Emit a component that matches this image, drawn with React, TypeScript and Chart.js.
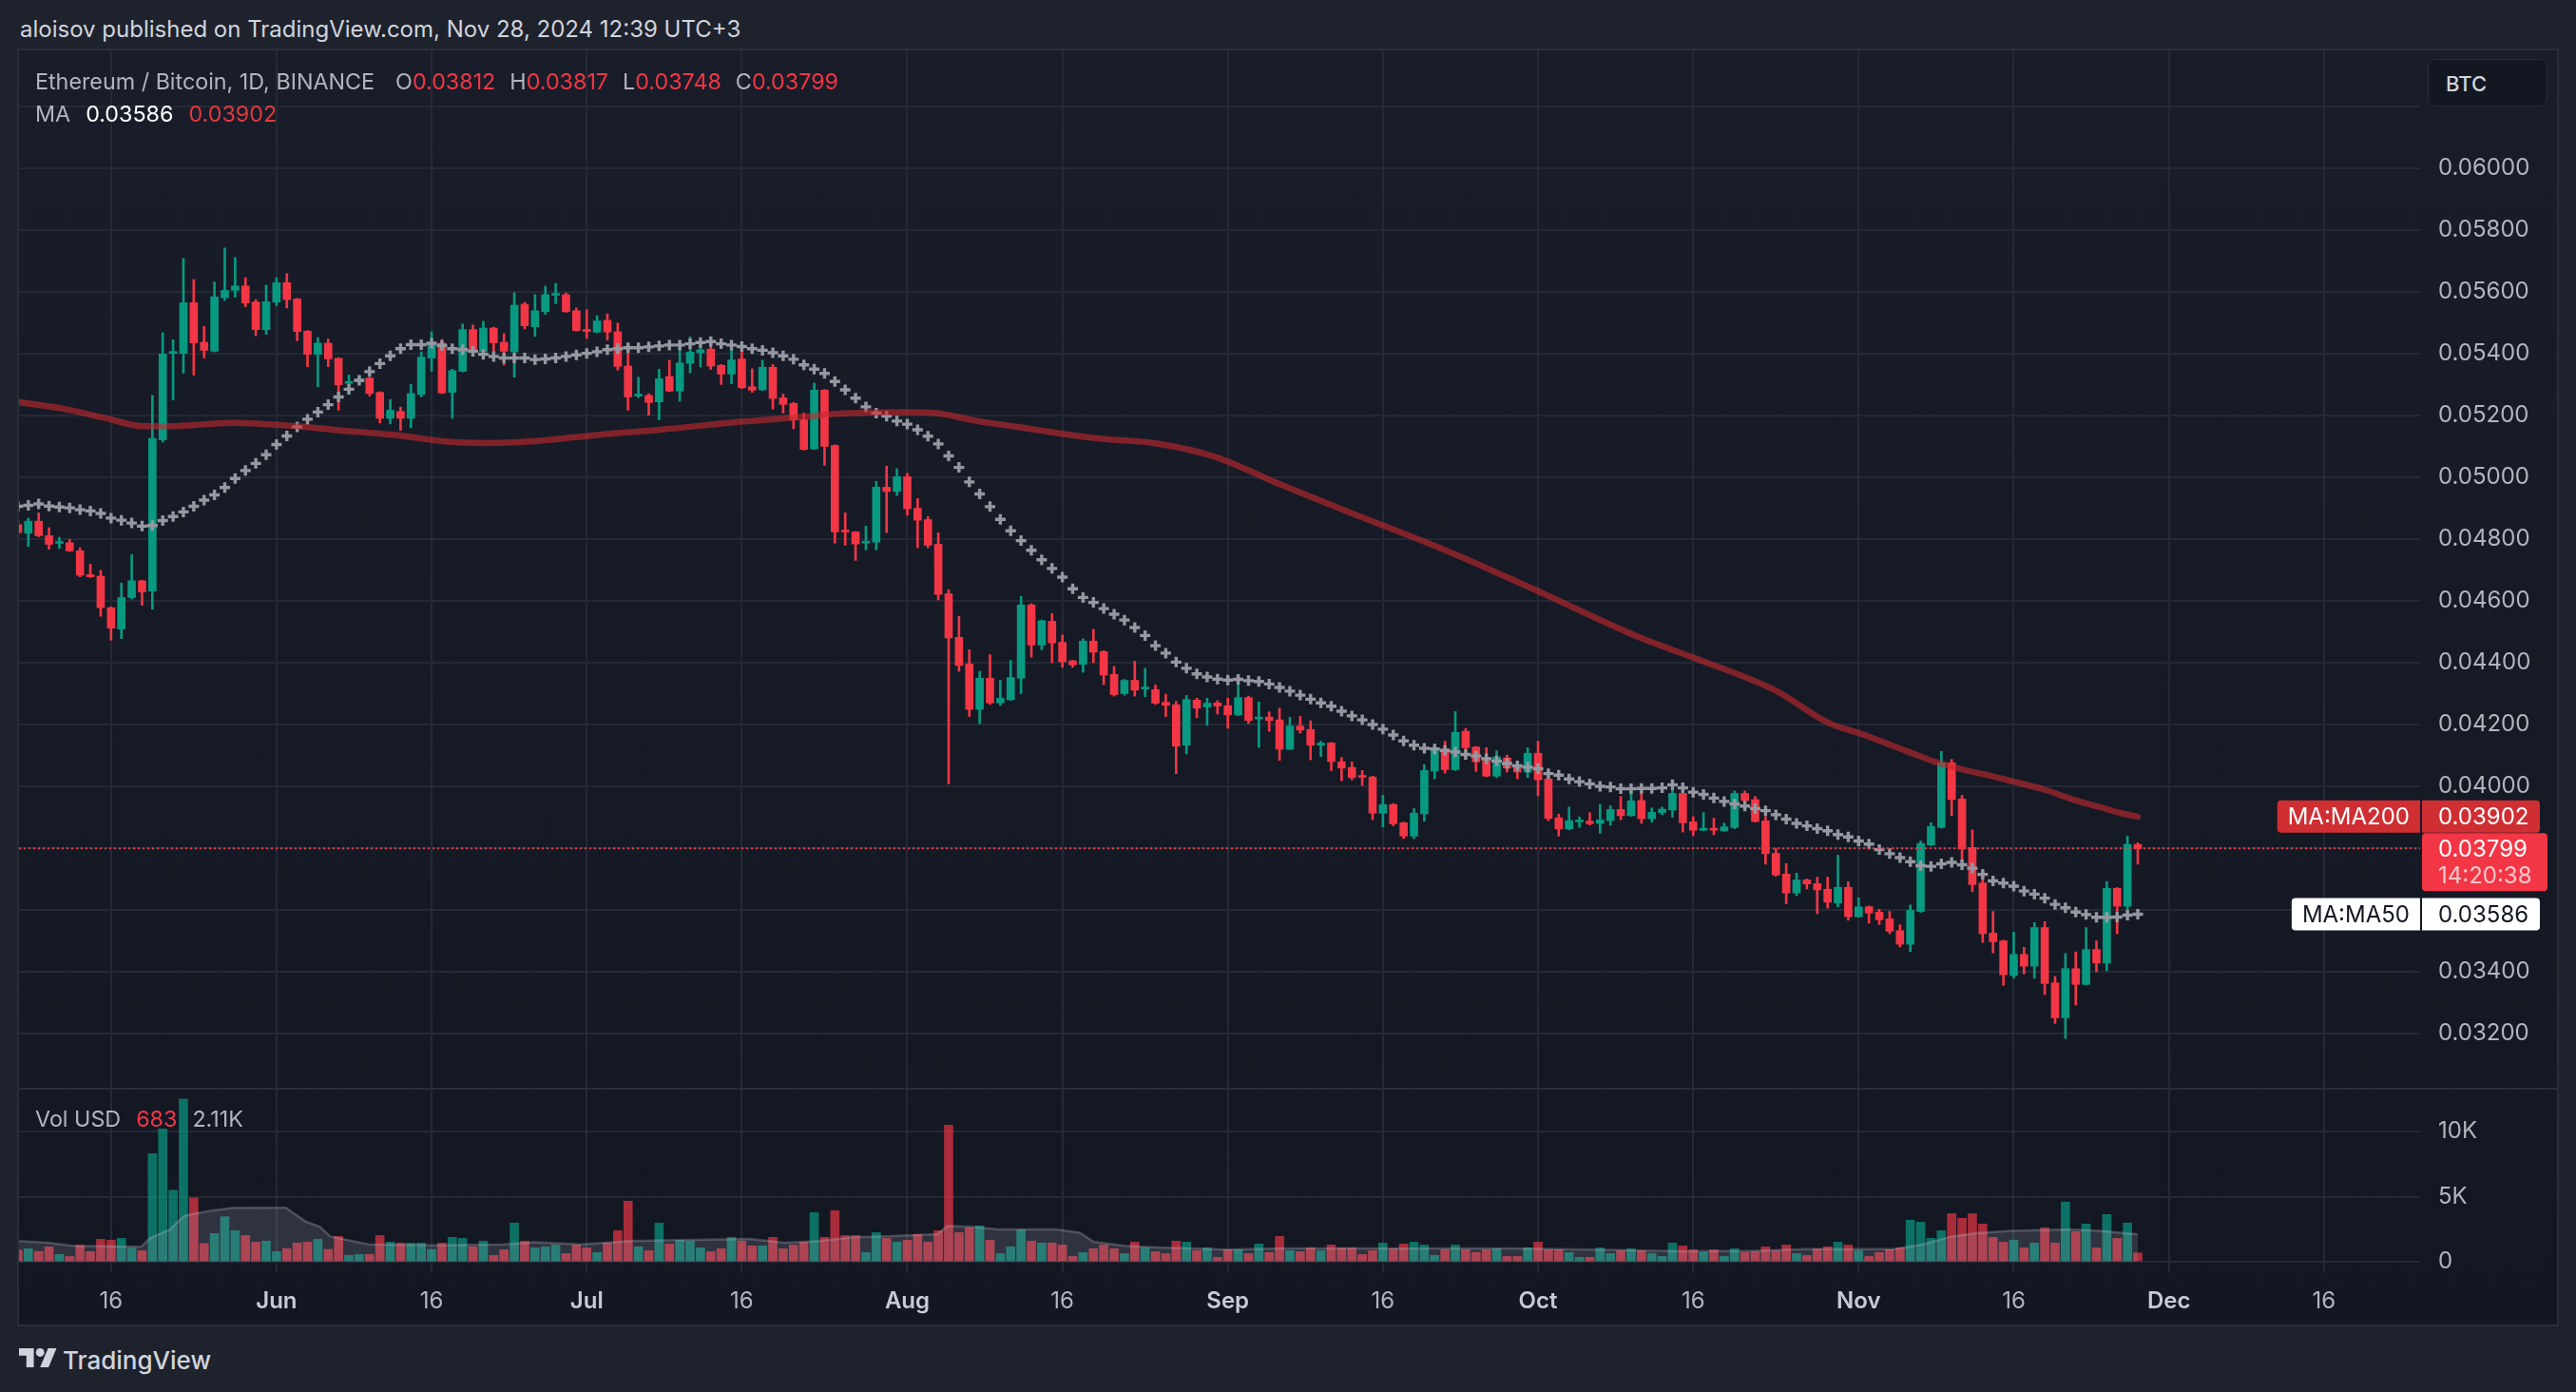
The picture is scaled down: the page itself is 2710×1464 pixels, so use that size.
import React, { useEffect, useRef } from 'react';
import { Chart, registerables } from 'chart.js';

Chart.register(...registerables);

const FONT = 'Inter, "Noto Sans", "DejaVu Sans", sans-serif';
Chart.defaults.font.family = FONT;

// ---------------- data (day index 0 = 2024-05-07, one candle per day) ----------------
const opens = [
  0.04847,0.04819,0.04858,0.04811,0.04786,0.04788,0.04762,0.04685,0.04680,0.04578,
  0.04509,0.04611,0.04665,0.04632,0.05121,0.05401,0.05401,0.05565,0.05437,0.05408,
  0.05581,0.05605,0.05619,0.05567,0.05478,0.05567,0.05630,0.05577,0.05473,0.05398,
  0.05434,0.05385,0.05304,0.05309,0.05321,0.05275,0.05191,0.05213,0.05191,0.05268,
  0.05386,0.05434,0.05275,0.05343,0.05478,0.05406,0.05483,0.05437,0.05406,0.05560,
  0.05487,0.05536,0.05589,0.05591,0.05539,0.05477,0.05470,0.05508,0.05471,0.05360,
  0.05263,0.05265,0.05244,0.05326,0.05279,0.05369,0.05403,0.05415,0.05362,0.05334,
  0.05383,0.05293,0.05283,0.05356,0.05257,0.05239,0.05186,0.05092,0.05282,0.05103,
  0.04828,0.04823,0.04787,0.04790,0.04968,0.04954,0.05002,0.04900,0.04863,0.04783,
  0.04623,0.04482,0.04396,0.04249,0.04350,0.04270,0.04280,0.04350,0.04587,0.04457,
  0.04534,0.04466,0.04406,0.04395,0.04470,0.04436,0.04362,0.04300,0.04343,0.04315,
  0.04313,0.04272,0.04264,0.04133,0.04279,0.04257,0.04270,0.04261,0.04231,0.04287,
  0.04218,0.04224,0.04215,0.04120,0.04195,0.04184,0.04133,0.04140,0.04079,0.04061,
  0.04034,0.04030,0.03913,0.03941,0.03882,0.03839,0.03911,0.04049,0.04121,0.04054,
  0.04178,0.04127,0.04082,0.04033,0.04092,0.04062,0.04046,0.04107,0.04024,0.03898,
  0.03862,0.03885,0.03887,0.03880,0.03889,0.03925,0.03905,0.03954,0.03895,0.03915,
  0.03923,0.03977,0.03885,0.03858,0.03863,0.03856,0.03867,0.03977,0.03957,0.03888,
  0.03783,0.03716,0.03655,0.03697,0.03685,0.03667,0.03622,0.03673,0.03578,0.03610,
  0.03593,0.03571,0.03533,0.03489,0.03595,0.03810,0.03867,0.04076,0.03959,0.03802,
  0.03687,0.03525,0.03500,0.03388,0.03456,0.03418,0.03543,0.03364,0.03251,0.03410,
  0.03359,0.03472,0.03428,0.03670,0.03612,0.03812,
];
const highs = [
  0.04860,0.04868,0.04885,0.04837,0.04806,0.04799,0.04772,0.04719,0.04699,0.04581,
  0.04658,0.04750,0.04667,0.05265,0.05468,0.05445,0.05708,0.05640,0.05488,0.05632,
  0.05742,0.05711,0.05646,0.05575,0.05622,0.05646,0.05659,0.05579,0.05475,0.05452,
  0.05447,0.05387,0.05331,0.05329,0.05323,0.05277,0.05252,0.05227,0.05301,0.05406,
  0.05471,0.05446,0.05350,0.05496,0.05493,0.05505,0.05486,0.05465,0.05597,0.05566,
  0.05591,0.05619,0.05627,0.05597,0.05548,0.05542,0.05523,0.05529,0.05499,0.05417,
  0.05324,0.05271,0.05350,0.05379,0.05439,0.05454,0.05434,0.05428,0.05365,0.05415,
  0.05408,0.05351,0.05379,0.05365,0.05269,0.05242,0.05208,0.05305,0.05284,0.05105,
  0.04885,0.04825,0.04842,0.04987,0.05036,0.05028,0.05013,0.04931,0.04873,0.04820,
  0.04636,0.04550,0.04442,0.04372,0.04426,0.04343,0.04408,0.04615,0.04591,0.04538,
  0.04559,0.04490,0.04408,0.04477,0.04508,0.04439,0.04388,0.04346,0.04405,0.04382,
  0.04328,0.04298,0.04275,0.04294,0.04285,0.04285,0.04277,0.04285,0.04339,0.04292,
  0.04273,0.04241,0.04253,0.04223,0.04226,0.04212,0.04146,0.04142,0.04093,0.04079,
  0.04051,0.04033,0.03971,0.03944,0.03884,0.03928,0.04070,0.04128,0.04146,0.04242,
  0.04187,0.04129,0.04125,0.04115,0.04101,0.04072,0.04125,0.04146,0.04046,0.03910,
  0.03933,0.03901,0.03915,0.03941,0.03937,0.03967,0.03985,0.03985,0.03930,0.03933,
  0.04005,0.04003,0.03902,0.03915,0.03897,0.03881,0.03985,0.03985,0.03967,0.03902,
  0.03798,0.03750,0.03719,0.03700,0.03706,0.03706,0.03777,0.03691,0.03639,0.03613,
  0.03602,0.03595,0.03552,0.03616,0.03823,0.03882,0.04113,0.04087,0.03971,0.03859,
  0.03723,0.03595,0.03502,0.03528,0.03479,0.03559,0.03562,0.03385,0.03459,0.03464,
  0.03543,0.03500,0.03692,0.03672,0.03839,0.03817,
];
const lows = [
  0.04815,0.04776,0.04808,0.04767,0.04770,0.04760,0.04678,0.04676,0.04550,0.04473,
  0.04478,0.04606,0.04586,0.04573,0.05114,0.05250,0.05337,0.05331,0.05386,0.05406,
  0.05572,0.05583,0.05552,0.05458,0.05463,0.05555,0.05548,0.05442,0.05358,0.05293,
  0.05358,0.05217,0.05268,0.05301,0.05263,0.05176,0.05173,0.05152,0.05160,0.05260,
  0.05343,0.05271,0.05191,0.05341,0.05394,0.05386,0.05406,0.05363,0.05324,0.05480,
  0.05456,0.05527,0.05562,0.05534,0.05473,0.05450,0.05468,0.05444,0.05347,0.05217,
  0.05258,0.05201,0.05186,0.05277,0.05246,0.05338,0.05357,0.05349,0.05300,0.05303,
  0.05287,0.05275,0.05281,0.05221,0.05208,0.05157,0.05088,0.05090,0.05039,0.04787,
  0.04780,0.04731,0.04765,0.04765,0.04821,0.04941,0.04877,0.04772,0.04772,0.04603,
  0.04008,0.04372,0.04226,0.04203,0.04265,0.04262,0.04278,0.04300,0.04418,0.04442,
  0.04400,0.04385,0.04385,0.04369,0.04400,0.04329,0.04292,0.04295,0.04292,0.04290,
  0.04265,0.04226,0.04041,0.04105,0.04222,0.04197,0.04234,0.04188,0.04229,0.04203,
  0.04126,0.04178,0.04084,0.04118,0.04172,0.04086,0.04096,0.04051,0.04018,0.04021,
  0.04003,0.03892,0.03869,0.03872,0.03831,0.03831,0.03887,0.04024,0.04043,0.04051,
  0.04098,0.04048,0.04031,0.04028,0.04046,0.04024,0.04028,0.03969,0.03889,0.03839,
  0.03859,0.03867,0.03875,0.03848,0.03874,0.03892,0.03903,0.03880,0.03884,0.03908,
  0.03900,0.03852,0.03840,0.03856,0.03843,0.03854,0.03863,0.03943,0.03884,0.03748,
  0.03709,0.03620,0.03646,0.03668,0.03588,0.03606,0.03610,0.03567,0.03576,0.03557,
  0.03553,0.03523,0.03480,0.03465,0.03592,0.03808,0.03865,0.03905,0.03754,0.03659,
  0.03495,0.03461,0.03356,0.03379,0.03393,0.03379,0.03326,0.03233,0.03184,0.03292,
  0.03357,0.03400,0.03403,0.03523,0.03585,0.03748,
];
const closes = [
  0.04821,0.04858,0.04811,0.04783,0.04791,0.04762,0.04683,0.04678,0.04578,0.04512,
  0.04611,0.04665,0.04629,0.05126,0.05399,0.05406,0.05565,0.05435,0.05411,0.05584,
  0.05605,0.05619,0.05564,0.05478,0.05568,0.05630,0.05575,0.05472,0.05398,0.05434,
  0.05383,0.05299,0.05309,0.05319,0.05271,0.05191,0.05217,0.05191,0.05271,0.05389,
  0.05434,0.05273,0.05345,0.05478,0.05406,0.05483,0.05435,0.05408,0.05557,0.05490,
  0.05539,0.05591,0.05593,0.05536,0.05475,0.05472,0.05506,0.05470,0.05359,0.05260,
  0.05268,0.05242,0.05319,0.05279,0.05370,0.05405,0.05413,0.05360,0.05334,0.05380,
  0.05290,0.05282,0.05356,0.05255,0.05236,0.05186,0.05090,0.05282,0.05100,0.04823,
  0.04823,0.04784,0.04793,0.04968,0.04954,0.05002,0.04898,0.04861,0.04780,0.04621,
  0.04480,0.04391,0.04249,0.04350,0.04270,0.04285,0.04352,0.04587,0.04457,0.04536,
  0.04464,0.04403,0.04393,0.04470,0.04434,0.04360,0.04297,0.04343,0.04311,0.04319,
  0.04269,0.04262,0.04130,0.04281,0.04253,0.04269,0.04260,0.04231,0.04287,0.04213,
  0.04223,0.04213,0.04120,0.04195,0.04182,0.04133,0.04140,0.04080,0.04059,0.04028,
  0.04029,0.03913,0.03941,0.03879,0.03839,0.03913,0.04051,0.04123,0.04054,0.04175,
  0.04125,0.04079,0.04033,0.04095,0.04059,0.04046,0.04107,0.04021,0.03896,0.03862,
  0.03889,0.03889,0.03879,0.03891,0.03925,0.03905,0.03953,0.03895,0.03916,0.03926,
  0.03977,0.03882,0.03858,0.03862,0.03858,0.03869,0.03977,0.03954,0.03886,0.03782,
  0.03713,0.03655,0.03697,0.03684,0.03665,0.03625,0.03673,0.03578,0.03610,0.03590,
  0.03568,0.03531,0.03489,0.03599,0.03815,0.03870,0.04076,0.03957,0.03797,0.03682,
  0.03523,0.03497,0.03390,0.03456,0.03418,0.03543,0.03362,0.03251,0.03410,0.03359,
  0.03472,0.03428,0.03670,0.03612,0.03812,0.03799,
];
// volume in thousands (USD)
const volumesK = [
  0.90,1.00,0.80,1.15,0.56,0.41,1.27,0.78,1.73,1.66,
  1.80,1.05,0.85,8.30,10.20,5.50,12.50,4.90,1.41,2.17,
  3.46,2.39,2.02,1.51,1.59,0.78,1.02,1.44,1.51,1.73,
  0.95,1.95,0.49,0.56,0.56,2.02,1.51,1.44,1.44,1.44,
  0.95,1.44,1.88,1.80,1.15,1.59,0.49,0.93,2.98,1.59,
  1.07,1.15,1.29,0.63,1.29,1.07,0.71,1.44,2.39,4.66,
  1.15,0.85,2.98,1.37,1.66,1.59,1.07,0.78,1.00,1.88,
  1.59,1.22,1.22,1.88,1.00,1.29,1.51,3.78,1.88,3.93,
  2.02,2.02,0.71,2.24,1.80,1.51,1.66,2.10,1.51,2.39,
  10.50,2.24,2.61,2.76,1.66,0.63,1.15,2.46,1.59,1.44,
  1.44,1.29,0.41,0.71,1.00,1.29,1.00,0.63,1.51,1.07,
  0.78,0.63,1.59,1.51,0.85,1.07,0.34,0.93,0.93,0.63,
  1.37,0.71,1.95,0.85,0.78,1.07,0.85,1.29,1.07,1.07,
  0.56,0.85,1.44,1.00,1.37,1.51,1.29,0.49,0.93,1.29,
  0.93,0.71,0.93,1.00,0.41,0.41,1.07,1.51,0.93,0.93,
  0.71,0.34,0.34,1.07,0.63,0.85,1.00,0.85,0.63,0.41,
  1.44,1.22,0.93,0.71,0.93,0.41,1.00,0.71,0.78,1.15,
  0.85,1.29,0.63,0.49,0.98,1.15,1.51,1.29,0.85,0.41,
  0.71,0.93,1.07,3.20,3.05,1.80,2.39,3.70,3.34,3.70,
  2.90,1.88,1.51,1.66,1.07,1.44,2.61,1.44,4.59,2.32,
  2.90,1.07,3.63,1.80,2.98,0.683,
];
const ma50 = [
  0.04906,0.04909,0.04914,0.04907,0.04904,0.04901,0.04895,0.04891,0.04883,0.04868,
  0.04861,0.04852,0.04842,0.04844,0.04860,0.04873,0.04888,0.04906,0.04926,0.04943,
  0.04967,0.04996,0.05022,0.05045,0.05073,0.05106,0.05134,0.05163,0.05188,0.05211,
  0.05235,0.05260,0.05285,0.05314,0.05342,0.05368,0.05393,0.05416,0.05429,0.05429,
  0.05434,0.05427,0.05416,0.05413,0.05408,0.05398,0.05391,0.05386,0.05386,0.05386,
  0.05381,0.05383,0.05386,0.05391,0.05396,0.05401,0.05406,0.05413,0.05416,0.05419,
  0.05419,0.05422,0.05425,0.05428,0.05428,0.05432,0.05436,0.05439,0.05432,0.05428,
  0.05423,0.05416,0.05411,0.05403,0.05393,0.05382,0.05364,0.05350,0.05336,0.05310,
  0.05283,0.05256,0.05228,0.05208,0.05198,0.05182,0.05172,0.05154,0.05133,0.05108,
  0.05069,0.05032,0.04985,0.04946,0.04905,0.04864,0.04827,0.04795,0.04764,0.04733,
  0.04705,0.04677,0.04639,0.04611,0.04595,0.04575,0.04557,0.04538,0.04514,0.04488,
  0.04455,0.04431,0.04402,0.04382,0.04364,0.04354,0.04347,0.04344,0.04346,0.04342,
  0.04339,0.04331,0.04320,0.04308,0.04295,0.04282,0.04270,0.04259,0.04243,0.04228,
  0.04215,0.04200,0.04185,0.04166,0.04147,0.04133,0.04123,0.04121,0.04116,0.04111,
  0.04103,0.04098,0.04089,0.04082,0.04074,0.04066,0.04062,0.04057,0.04041,0.04036,
  0.04024,0.04015,0.04008,0.04000,0.03998,0.03992,0.03992,0.03993,0.03993,0.03995,
  0.04005,0.03995,0.03981,0.03974,0.03962,0.03951,0.03943,0.03936,0.03928,0.03921,
  0.03908,0.03894,0.03880,0.03872,0.03863,0.03856,0.03844,0.03836,0.03823,0.03813,
  0.03795,0.03782,0.03769,0.03756,0.03743,0.03741,0.03749,0.03754,0.03746,0.03735,
  0.03715,0.03694,0.03687,0.03677,0.03661,0.03651,0.03638,0.03618,0.03607,0.03593,
  0.03585,0.03576,0.03576,0.03577,0.03583,0.03586,
];
// MA200 at these day indices
const ma200Days = [0,4.4,8.5,12.2,14.7,20.8,27,31,37.2,41.3,45.4,49.5,53.7,57.7,62.1,70,75.9,79,86,89,92.8,95.9,101,105.1,110,115.8,122.2,130.1,138.1,146.7,156.8,161.9,169.9,175.1,178.3,183.1,185.6,187.9,191.1,193,195.9,199,201.6,203.8,205];
const ma200Vals = [0.05244,0.05222,0.05191,0.05165,0.05165,0.05176,0.05165,0.05152,0.05134,0.05116,0.05111,0.05116,0.05129,0.05142,0.05154,0.05180,0.05195,0.05205,0.05211,0.05207,0.05182,0.05167,0.05141,0.05124,0.05110,0.05066,0.04975,0.04869,0.04763,0.04636,0.04482,0.04418,0.04311,0.04205,0.04169,0.04108,0.04077,0.04056,0.04031,0.04015,0.03990,0.03954,0.03930,0.03910,0.03902];
// volume moving average (thousands)
const volMaDays = [0,2.9,5.3,11.9,12.8,14.7,16.1,18.4,20.8,25.9,27.8,29.2,30.2,33.9,40.5,47,49.9,54.5,59.2,63.9,70.8,74.1,77.4,80.7,84,88.9,89.9,92.2,94.8,100.4,102.7,104,107,110.2,113.5,116.8,122.3,144.9,154.7,161.3,167.9,172.8,181.4,184.2,187.05,189.4,192.7,198.4,201.3,205];
const volMaVals = [1.59,1.46,1.22,1.15,1.83,2.49,3.54,3.90,4.15,4.15,3.10,2.68,1.95,1.34,1.27,1.34,1.51,1.34,1.59,1.66,1.76,1.46,1.59,1.88,1.95,2.12,2.76,2.68,2.49,2.49,2.24,1.54,1.22,1.10,1.02,0.93,1.02,1.02,0.90,0.80,0.85,0.98,0.98,1.34,1.95,2.20,2.37,2.49,2.37,2.11];

const ma200Last = 0.03902;
const countdown = '14:20:38';

const priceTicks = [0.032,0.034,0.036,0.038,0.040,0.042,0.044,0.046,0.048,0.050,0.052,0.054,0.056,0.058,0.060,0.062];
const hiddenPriceTick = 0.062;
const volTicks = [0, 5, 10];
const volTickLabels = ['0', '5K', '10K'];
const timeTickDays = [9,25,40,55,70,86,101,117,132,147,162,178,193,208,223];
const timeTickLabels = ['16','Jun','16','Jul','16','Aug','16','Sep','16','Oct','16','Nov','16','Dec','16'];

// ---------------- layout / style ----------------
const PANEL_L = 20, PANEL_T = 53, PANEL_R = 2690, PRICE_B = 1145, VOL_B = 1338, PANEL_B = 1393;
const AXIS_W = 144;
const X_MIN = 0.1, X_MAX = 232.3;
const P_MIN = 0.030215, P_MAX = 0.063815;
const V_MIN = -0.8, V_MAX = 13.3;
const GREEN = '#089981';
const RED = '#f23645';
const GRID = '#252935';
const TEXT = '#b2b5be';

const upFlags = closes.map((c, i) => c >= opens[i]);
const candleColors = upFlags.map(u => (u ? GREEN : RED));
const volColors = upFlags.map(u => (u ? 'rgba(8,153,129,0.7)' : 'rgba(242,54,69,0.68)'));

const zeroPad = (s: any) => { s.paddingTop = 0; s.paddingBottom = 0; s.paddingLeft = 0; s.paddingRight = 0; };

const badgePlugin = {
  id: 'axisBadges',
  afterDraw(chart: any) {
    const { ctx, chartArea, scales } = chart;
    const ys = scales.y;
    const right = chartArea.right;
    const textX = right + 19;
    ctx.save();
    ctx.font = `24px ${FONT}`;
    ctx.textBaseline = 'middle';
    ctx.textAlign = 'left';
    const pair = (value: number, label: string, bg: string, fg: string) => {
      const py = ys.getPixelForValue(value);
      const h = 34;
      const lw = ctx.measureText(label).width + 22;
      ctx.fillStyle = bg;
      ctx.beginPath();
      ctx.roundRect(right - lw, py - h / 2, lw, h, [4, 0, 0, 4]);
      ctx.fill();
      ctx.beginPath();
      ctx.roundRect(right + 2, py - h / 2, 124, h, [0, 4, 4, 0]);
      ctx.fill();
      ctx.fillStyle = fg;
      ctx.fillText(label, right - lw + 11, py + 1);
      ctx.fillText(value.toFixed(5), textX, py + 1);
    };
    pair(ma200Last, 'MA:MA200', '#cf2e33', '#ffffff');
    const last = closes[closes.length - 1];
    const lp = ys.getPixelForValue(last);
    ctx.fillStyle = RED;
    ctx.beginPath();
    ctx.roundRect(right + 2, lp - 16, 132, 61, 4);
    ctx.fill();
    ctx.fillStyle = '#ffffff';
    ctx.fillText(last.toFixed(5), textX, lp + 1);
    ctx.fillStyle = 'rgba(255,255,255,0.72)';
    ctx.fillText(countdown, textX, lp + 29);
    pair(ma50[ma50.length - 1], 'MA:MA50', '#ffffff', '#131722');
    ctx.restore();
  },
};

function makePriceChart(canvas: HTMLCanvasElement) {
  const last = closes[closes.length - 1];
  return new Chart(canvas, {
    type: 'bar',
    data: {
      datasets: [
        {
          type: 'line', label: 'last', order: 0,
          data: [{ x: X_MIN, y: last }, { x: X_MAX, y: last }],
          borderColor: RED, borderWidth: 2, borderDash: [2, 3], pointRadius: 0,
        },
        {
          type: 'line', label: 'MA200', order: 1,
          data: ma200Days.map((d, i) => ({ x: d, y: ma200Vals[i] })),
          borderColor: 'rgba(200,40,45,0.6)', borderWidth: 6.5, pointRadius: 0,
          tension: 0.4, cubicInterpolationMode: 'monotone', borderCapStyle: 'round',
        },
        {
          type: 'line', label: 'MA50', order: 2,
          data: ma50.map((v, i) => ({ x: i, y: v })),
          showLine: false, pointStyle: 'cross', pointRadius: 5.5, pointBorderWidth: 3.4,
          pointBorderColor: '#9598a1', pointBackgroundColor: '#9598a1',
        },
        {
          type: 'bar', label: 'body', order: 3,
          data: opens.map((o, i) => ({ x: i, y: [o, closes[i]] })),
          backgroundColor: candleColors, barThickness: 8, minBarLength: 2, grouped: false,
        },
        {
          type: 'bar', label: 'wick', order: 4,
          data: lows.map((l, i) => ({ x: i, y: [l, highs[i]] })),
          backgroundColor: candleColors, barThickness: 2, grouped: false,
        },
      ],
    } as any,
    options: {
      animation: false, responsive: false, maintainAspectRatio: false, devicePixelRatio: 1,
      layout: { padding: 0, autoPadding: false },
      plugins: { legend: { display: false }, tooltip: { enabled: false } },
      scales: {
        x: {
          type: 'linear', min: X_MIN, max: X_MAX, offset: false,
          grid: { color: GRID, lineWidth: 2, drawTicks: false, offset: false },
          border: { display: false },
          ticks: { display: false },
          afterBuildTicks: (s: any) => { s.ticks = timeTickDays.map(v => ({ value: v })); },
          afterFit: (s: any) => { s.height = 0; zeroPad(s); },
        },
        y: {
          type: 'linear', position: 'right', min: P_MIN, max: P_MAX, beginAtZero: false,
          grid: { color: GRID, lineWidth: 2, drawTicks: false },
          border: { display: false },
          ticks: {
            color: TEXT, padding: 19, font: { family: FONT, size: 24 },
            callback: (v: any) => (Math.abs(v - hiddenPriceTick) < 1e-9 ? '' : Number(v).toFixed(5)),
          },
          afterBuildTicks: (s: any) => { s.ticks = priceTicks.map(v => ({ value: v })); },
          afterFit: (s: any) => { s.width = AXIS_W; zeroPad(s); },
        },
      },
    } as any,
    plugins: [badgePlugin],
  });
}

function makeVolumeChart(canvas: HTMLCanvasElement) {
  return new Chart(canvas, {
    type: 'bar',
    data: {
      datasets: [
        {
          type: 'line', label: 'Vol MA', order: 0,
          data: volMaDays.map((d, i) => ({ x: d, y: volMaVals[i] })),
          borderColor: 'rgba(190,192,205,0.28)', backgroundColor: 'rgba(190,192,205,0.17)',
          borderWidth: 2.5, pointRadius: 0, tension: 0, fill: 'origin',
        },
        {
          type: 'bar', label: 'Vol', order: 1,
          data: volumesK.map((v, i) => ({ x: i, y: v })),
          backgroundColor: volColors, barThickness: 9, grouped: false,
        },
      ],
    } as any,
    options: {
      animation: false, responsive: false, maintainAspectRatio: false, devicePixelRatio: 1,
      layout: { padding: 0, autoPadding: false },
      plugins: { legend: { display: false }, tooltip: { enabled: false } },
      scales: {
        x: {
          type: 'linear', min: X_MIN, max: X_MAX, offset: false,
          grid: { color: GRID, lineWidth: 2, drawTicks: false, offset: false },
          border: { display: false },
          ticks: {
            padding: 16, autoSkip: false, maxRotation: 0,
            color: (c: any) => (timeTickLabels[c.index] === '16' ? TEXT : '#c8cbd3'),
            font: (c: any) => ({ family: FONT, size: 24, weight: timeTickLabels[c.index] === '16' ? '400' : '600' }),
            callback: (_v: any, i: number) => timeTickLabels[i],
          },
          afterBuildTicks: (s: any) => { s.ticks = timeTickDays.map(v => ({ value: v })); },
          afterFit: (s: any) => { s.height = PANEL_B - VOL_B; zeroPad(s); },
        },
        y: {
          type: 'linear', position: 'right', min: V_MIN, max: V_MAX, beginAtZero: false,
          grid: { color: GRID, lineWidth: 2, drawTicks: false },
          border: { display: false },
          ticks: {
            color: TEXT, padding: 19, font: { family: FONT, size: 24 },
            callback: (_v: any, i: number) => volTickLabels[i],
          },
          afterBuildTicks: (s: any) => { s.ticks = volTicks.map(v => ({ value: v })); },
          afterFit: (s: any) => { s.width = AXIS_W; zeroPad(s); },
        },
      },
    } as any,
  });
}

const txt = (extra: React.CSSProperties): React.CSSProperties => ({
  position: 'absolute', whiteSpace: 'pre', fontFamily: FONT, ...extra,
});

export default function App() {
  const priceRef = useRef<HTMLCanvasElement>(null);
  const volRef = useRef<HTMLCanvasElement>(null);

  useEffect(() => {
    document.body.style.margin = '0';
    document.body.style.background = '#1e222d';
    const a = makePriceChart(priceRef.current!);
    const b = makeVolumeChart(volRef.current!);
    return () => { a.destroy(); b.destroy(); };
  }, []);

  const n = closes.length - 1;
  const fmt = (v: number) => v.toFixed(5);
  const chartW = PANEL_R - PANEL_L;

  return (
    <div style={{ position: 'fixed', left: 0, top: 0, width: 2710, height: 1464, background: '#1e222d', overflow: 'hidden' }}>
      <div style={txt({ left: 21, top: 15, height: 32, lineHeight: '32px', fontSize: 24, color: '#d1d4dc' })}>
        aloisov published on TradingView.com, Nov 28, 2024 12:39 UTC+3
      </div>
      {/* panel */}
      <div style={{ position: 'absolute', left: PANEL_L - 2, top: PANEL_T - 2, width: chartW, height: PANEL_B - PANEL_T, border: '2px solid #2a2e39', background: 'linear-gradient(#191d29, #131722)' }} />
      <canvas ref={priceRef} width={chartW} height={PRICE_B - PANEL_T}
        style={{ position: 'absolute', left: PANEL_L, top: PANEL_T, width: chartW, height: PRICE_B - PANEL_T }} />
      <canvas ref={volRef} width={chartW} height={PANEL_B - PRICE_B}
        style={{ position: 'absolute', left: PANEL_L, top: PRICE_B, width: chartW, height: PANEL_B - PRICE_B }} />
      <div style={{ position: 'absolute', left: PANEL_L, top: PRICE_B - 1, width: chartW, height: 2, background: '#2a2e39' }} />

      {/* legends */}
      <div style={txt({ left: 37, top: 71, height: 30, lineHeight: '30px', fontSize: 23.3, color: TEXT })}>
        <span>Ethereum / Bitcoin, 1D, BINANCE</span>
        <span style={{ marginLeft: 22 }}>O</span><span style={{ color: RED }}>{fmt(opens[n])}</span>
        <span style={{ marginLeft: 15 }}>H</span><span style={{ color: RED }}>{fmt(highs[n])}</span>
        <span style={{ marginLeft: 15 }}>L</span><span style={{ color: RED }}>{fmt(lows[n])}</span>
        <span style={{ marginLeft: 15 }}>C</span><span style={{ color: RED }}>{fmt(closes[n])}</span>
      </div>
      <div style={txt({ left: 37, top: 105, height: 30, lineHeight: '30px', fontSize: 23.3, color: TEXT })}>
        <span>MA</span>
        <span style={{ marginLeft: 16, color: '#ffffff' }}>{fmt(ma50[n])}</span>
        <span style={{ marginLeft: 16, color: '#e0393e' }}>{fmt(ma200Last)}</span>
      </div>
      <div style={txt({ left: 37, top: 1162, height: 30, lineHeight: '30px', fontSize: 23.3, color: TEXT })}>
        <span>Vol USD</span>
        <span style={{ marginLeft: 16, color: RED }}>{Math.round(volumesK[n] * 1000)}</span>
        <span style={{ marginLeft: 16 }}>{volMaVals[volMaVals.length - 1].toFixed(2)}K</span>
      </div>

      {/* BTC box */}
      <div style={txt({ left: 2554, top: 62, width: 126, height: 50, border: '1px solid #2a2e39', borderRadius: 8, background: '#131722', color: '#d1d4dc', fontSize: 22, fontWeight: 500, lineHeight: '50px', paddingLeft: 18, boxSizing: 'border-box' })}>
        BTC
      </div>

      {/* footer */}
      <svg style={{ position: 'absolute', left: 20, top: 1418 }} width={40} height={20} viewBox="0 0 36 18">
        <path d="M14 18H7V7H0V0h14v18z" fill="#d1d4dc" />
        <circle cx="20" cy="4" r="4" fill="#d1d4dc" />
        <path d="M28 18h-8l7.5-18h8L28 18z" fill="#d1d4dc" />
      </svg>
      <div style={txt({ left: 66, top: 1415, height: 32, lineHeight: '32px', fontSize: 26, fontWeight: 500, color: '#d1d4dc' })}>
        TradingView
      </div>
    </div>
  );
}
